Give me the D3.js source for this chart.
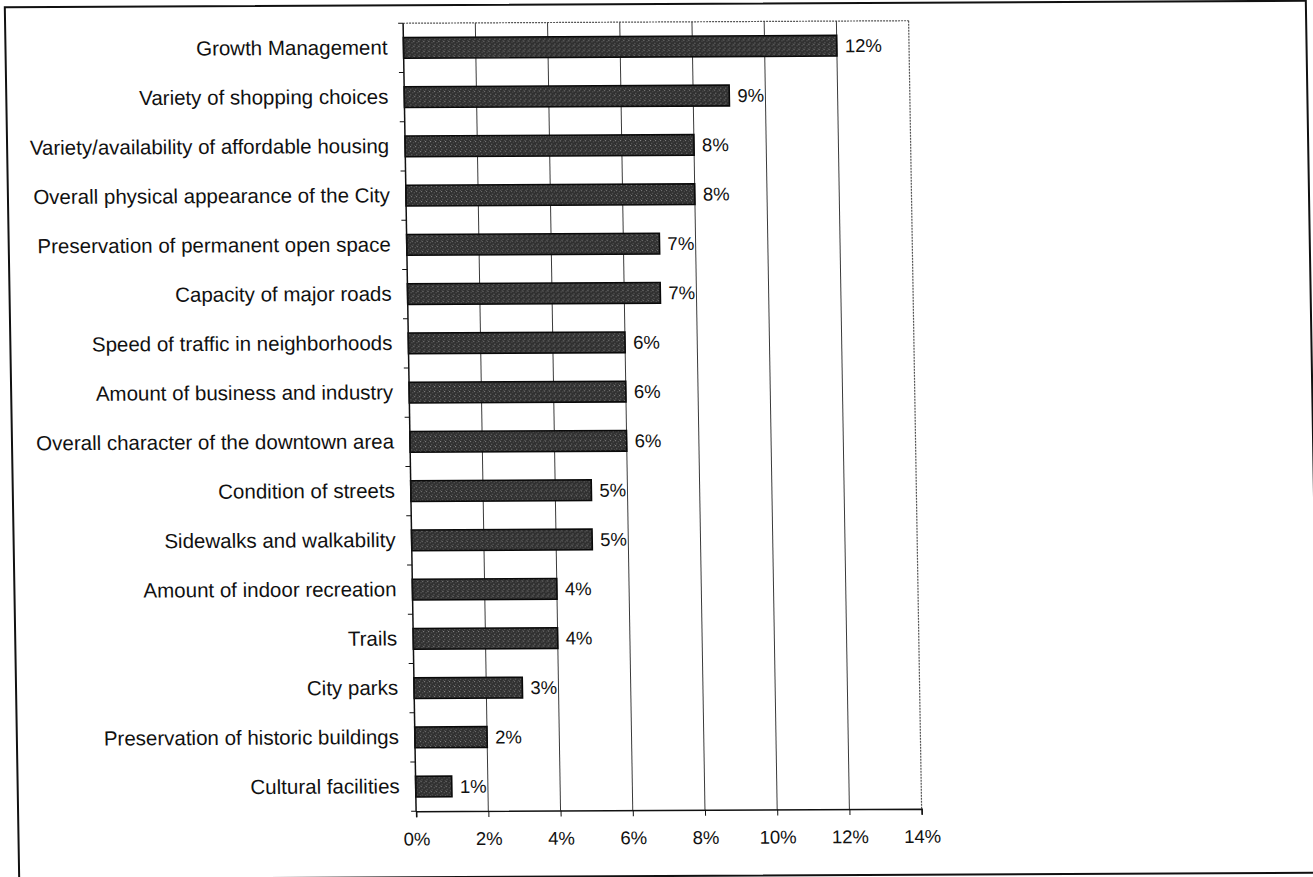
<!DOCTYPE html>
<html>
<head>
<meta charset="utf-8">
<script src="https://cdn.jsdelivr.net/npm/d3@7/dist/d3.min.js"></script>
<style>
  html, body { margin: 0; padding: 0; background: #ffffff; }
  svg { display: block; }
  text { font-family: "Liberation Sans", Arial, sans-serif; fill: #111; }
</style>
</head>
<body>
<svg id="chart" width="1313" height="877"></svg>
<script>
const categories = [
  "Growth Management",
  "Variety of shopping choices",
  "Variety/availability of affordable housing",
  "Overall physical appearance of the City",
  "Preservation of permanent open space",
  "Capacity of major roads",
  "Speed of traffic in neighborhoods",
  "Amount of business and industry",
  "Overall character of the downtown area",
  "Condition of streets",
  "Sidewalks and walkability",
  "Amount of indoor recreation",
  "Trails",
  "City parks",
  "Preservation of historic buildings",
  "Cultural facilities"
];
const values = [12, 9, 8, 8, 7, 7, 6, 6, 6, 5, 5, 4, 4, 3, 2, 1];
const tickValues = [0, 2, 4, 6, 8, 10, 12, 14];

const svg = d3.select("#chart");

// pattern giving the scanned, speckled dark-grey bar fill
const defs = svg.append("defs");
const pat = defs.append("pattern")
  .attr("id", "speckle").attr("patternUnits", "userSpaceOnUse")
  .attr("width", 5).attr("height", 5);
pat.append("rect").attr("width", 5).attr("height", 5).attr("fill", "#2f2f2f");
pat.append("rect").attr("x", 0).attr("y", 0).attr("width", 1).attr("height", 1).attr("fill", "#8a8a8a");
pat.append("rect").attr("x", 3).attr("y", 1).attr("width", 1).attr("height", 1).attr("fill", "#6a6a6a");
pat.append("rect").attr("x", 1).attr("y", 3).attr("width", 1).attr("height", 1).attr("fill", "#7c7c7c");
pat.append("rect").attr("x", 4).attr("y", 4).attr("width", 1).attr("height", 1).attr("fill", "#5c5c5c");

// slight shear to follow the scanned page
const root = svg.append("g")
  .attr("transform", "matrix(1,-0.005,0.0165,1,-7.26,3.3)");

// outer frame
root.append("rect")
  .attr("x", 12).attr("y", 4).attr("width", 1301).attr("height", 872)
  .attr("fill", "none").attr("stroke", "#111").attr("stroke-width", 2);

const plot = { left: 410, right: 915.5, top: 22, bottom: 810 };

const x = d3.scaleLinear().domain([0, 14]).range([plot.left, plot.right]);
const y = d3.scaleBand().domain(categories).range([plot.top, plot.bottom])
  .paddingInner(0.58).paddingOuter(0.29);

// plot border (dotted top / right)
root.append("line")
  .attr("x1", plot.left).attr("x2", plot.right).attr("y1", plot.top).attr("y2", plot.top)
  .attr("stroke", "#555").attr("stroke-width", 1.2).attr("stroke-dasharray", "2,1");
root.append("line")
  .attr("x1", plot.right).attr("x2", plot.right).attr("y1", plot.top).attr("y2", plot.bottom)
  .attr("stroke", "#555").attr("stroke-width", 1.2).attr("stroke-dasharray", "2,1");

// gridlines
root.append("g").selectAll("line")
  .data(tickValues.filter(d => d > 0 && d < 14))
  .join("line")
  .attr("x1", d => x(d)).attr("x2", d => x(d))
  .attr("y1", plot.top).attr("y2", plot.bottom)
  .attr("stroke", "#3a3a3a").attr("stroke-width", 1);

// bars
root.append("g").selectAll("rect")
  .data(categories)
  .join("rect")
  .attr("x", x(0))
  .attr("y", d => y(d))
  .attr("width", (d, i) => x(values[i]) - x(0))
  .attr("height", y.bandwidth())
  .attr("fill", "url(#speckle)")
  .attr("stroke", "#0a0a0a").attr("stroke-width", 1.6);

// value labels
root.append("g").selectAll("text")
  .data(categories)
  .join("text")
  .attr("x", (d, i) => x(values[i]) + 8)
  .attr("y", d => y(d) + y.bandwidth() / 2)
  .attr("dy", "0.35em")
  .attr("font-size", 18.5)
  .text((d, i) => values[i] + "%");

// y axis (category labels and ticks at band boundaries)
const yAxis = d3.axisLeft(y).tickSize(0).tickPadding(16);
const gy = root.append("g").attr("transform", `translate(${plot.left},0)`).call(yAxis);
gy.select(".domain").remove();
gy.selectAll("text").attr("font-size", 20.5).style("font-family", "'Liberation Sans', Arial, sans-serif").attr("fill", "#111");
root.append("line")
  .attr("x1", plot.left).attr("x2", plot.left).attr("y1", plot.top).attr("y2", plot.bottom)
  .attr("stroke", "#111").attr("stroke-width", 1.5);
root.append("g").selectAll("line")
  .data(d3.range(categories.length + 1))
  .join("line")
  .attr("x1", plot.left - 5).attr("x2", plot.left)
  .attr("y1", i => plot.top + i * (plot.bottom - plot.top) / categories.length)
  .attr("y2", i => plot.top + i * (plot.bottom - plot.top) / categories.length)
  .attr("stroke", "#111").attr("stroke-width", 1);

// x axis
const xAxis = d3.axisBottom(x).tickValues(tickValues).tickSize(6).tickPadding(15)
  .tickFormat(d => d + "%");
const gx = root.append("g").attr("transform", `translate(0,${plot.bottom})`).call(xAxis);
gx.select(".domain").attr("stroke", "#111").attr("stroke-width", 1.5);
gx.selectAll(".tick line").attr("stroke", "#111");
gx.selectAll("text").attr("font-size", 18.5).style("font-family", "'Liberation Sans', Arial, sans-serif").attr("fill", "#111");
</script>
</body>
</html>
